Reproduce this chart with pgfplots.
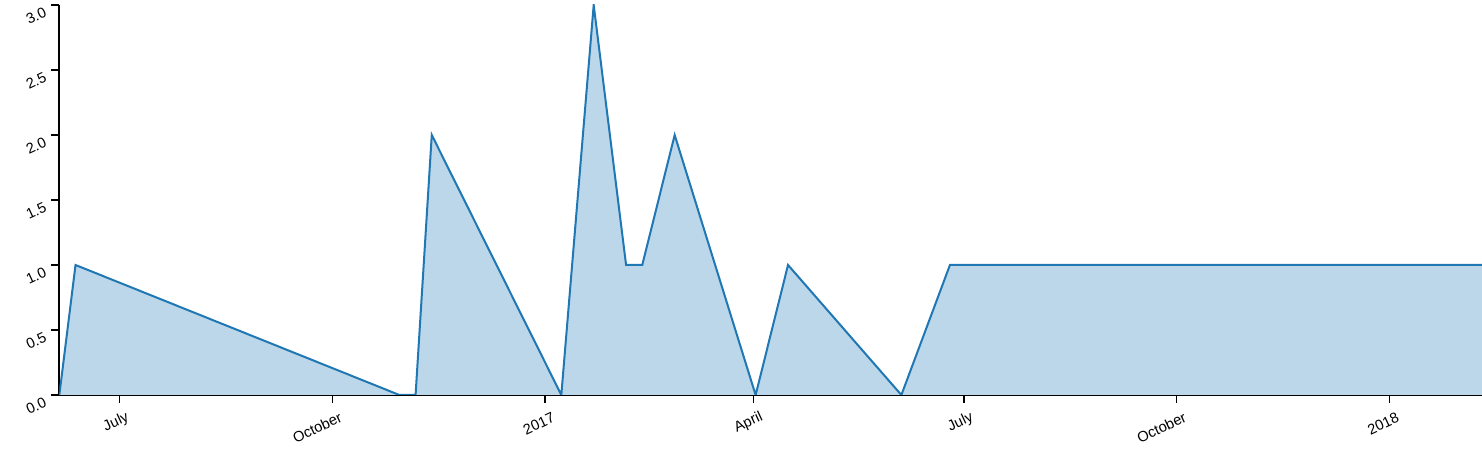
\documentclass[border=0pt]{standalone}
\usepackage{pgfplots}
\pgfplotsset{compat=1.18}
\usepackage{fontspec}
\setmainfont{Liberation Sans}
\definecolor{lineblue}{RGB}{31,119,180}
\definecolor{fillblue}{RGB}{188,215,234}
\begin{document}
\begin{tikzpicture}
\begin{axis}[
  scale only axis,
  width=1067pt, height=292.5pt,
  xmin=-26, xmax=589, ymin=0, ymax=3,
  axis x line=bottom, axis y line=left,
  axis line style={-, line width=1.7pt, black},
  tick style={line width=1.2pt, black},
  major tick length=6pt,
  tick align=outside,
  xtick={0,92,184,274,365,457,549},
  xticklabels={July,October,2017,April,July,October,2018},
  ytick={0,0.5,1,1.5,2,2.5,3},
  yticklabel style={/pgf/number format/fixed, /pgf/number format/precision=1, /pgf/number format/fixed zerofill},
  /pgf/number format/assume math mode=true,
  tick label style={font=\fontsize{11}{13}\selectfont},
  x tick label style={rotate=25, anchor=east, xshift=5pt, yshift=-12pt},
  y tick label style={rotate=25, anchor=east, xshift=-2.5pt, yshift=-2.5pt},
  clip=true,
]
\addplot[fill=fillblue, draw=none] coordinates {
(-26,0) (-19,1) (121,0) (128,0) (135,2) (191,0) (205,3) (219,1) (226,1) (240,2) (275,0) (289,1) (338,0) (359,1) (590,1)
} \closedcycle;
\addplot[lineblue, line width=1.5pt, mark=none] coordinates {
(-26,0) (-19,1) (121,0) (128,0) (135,2) (191,0) (205,3) (219,1) (226,1) (240,2) (275,0) (289,1) (338,0) (359,1) (590,1)
};
\coordinate (sw) at (rel axis cs:0,0);
\coordinate (ne) at (rel axis cs:1,1);
\end{axis}
\pgfresetboundingbox
\useasboundingbox ([shift={(-44.5pt,-42pt)}]sw) rectangle ([shift={(0pt,3.75pt)}]ne);
\end{tikzpicture}
\end{document}
